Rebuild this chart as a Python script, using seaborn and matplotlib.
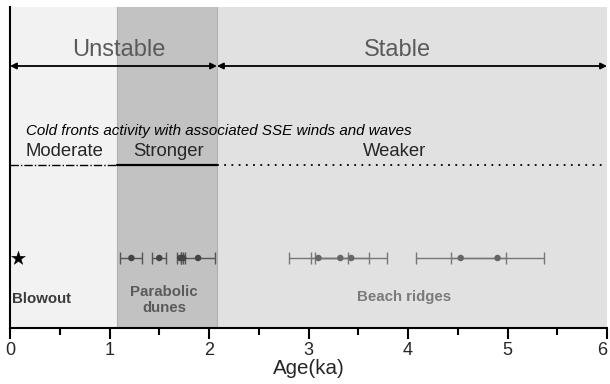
import matplotlib
matplotlib.use("Agg")
import matplotlib.pyplot as plt
import seaborn as sns
import pandas as pd
import numpy as np

# Data
dune_ages = [1.22, 1.50, 1.71, 1.74, 1.89]
dune_err = [0.11, 0.07, 0.03, 0.02, 0.17]
ridge_ages = [3.10, 3.32, 3.43, 4.53, 4.90]
ridge_err = [0.30, 0.29, 0.36, 0.45, 0.47]
blowout_age = [0.08]
phase_bounds = [0.0, 1.08, 2.08, 6.0]
stability_labels = ["Unstable", "Stable"]
front_labels = ["Moderate", "Stronger", "Weaker"]
xticks = [0, 1, 2, 3, 4, 5, 6]

sns.set_theme(style="white")
plt.rcParams['font.family'] = ['Liberation Sans', 'DejaVu Sans']

fig = plt.figure(figsize=(6.1, 3.84), dpi=100)
ax = fig.add_axes([10/610, (384-328)/384, 597/610, 321/384])
ax.set_xlim(0, 6)
ax.set_ylim(0, 321)

# backgrounds
bg = ["#f2f2f2", "#c2c2c2", "#e1e1e1"]
for i in range(3):
    ax.axvspan(phase_bounds[i], phase_bounds[i+1], color=bg[i], lw=0, zorder=0)
ax.axvline(phase_bounds[1], color="#b0b0b0", lw=0.8, zorder=0.5)
ax.axvline(phase_bounds[2], color="#b0b0b0", lw=0.8, zorder=0.5)

def py(p):
    return 328 - p

# arrows
arr = dict(arrowstyle="<|-|>", color="black", lw=1.3, mutation_scale=9, shrinkA=0, shrinkB=0)
ax.annotate("", xy=(phase_bounds[0], py(66)), xytext=(phase_bounds[2], py(66)), arrowprops=arr)
ax.annotate("", xy=(phase_bounds[2], py(66)), xytext=(phase_bounds[3], py(66)), arrowprops=arr)
ax.text(1.09, py(50), stability_labels[0], ha="center", va="center", fontsize=17, color="#5a5a5a")
ax.text(3.89, py(50), stability_labels[1], ha="center", va="center", fontsize=17, color="#5a5a5a")

# cold front lines
ax.plot([phase_bounds[0], phase_bounds[1]], [py(165)]*2, color="black", lw=1.0, ls=(0, (6, 1.5, 1, 1.5)))
ax.plot([phase_bounds[1], phase_bounds[2]], [py(165)]*2, color="black", lw=1.6, ls="-")
ax.plot([phase_bounds[2], phase_bounds[3]], [py(165)]*2, color="black", lw=1.3, ls=(0, (1, 3)))
ax.text(0.16, py(131), "Cold fronts activity with associated SSE winds and waves",
        ha="left", va="center", fontsize=10.9, style="italic", color="black")
ax.text(0.16, py(152), front_labels[0], ha="left", va="center", fontsize=13.3)
ax.text(1.59, py(152), front_labels[1], ha="center", va="center", fontsize=13.3)
ax.text(3.86, py(152), front_labels[2], ha="center", va="center", fontsize=13.3)

# error bars and points
yrow = py(258)
ax.errorbar(dune_ages, [yrow]*len(dune_ages), xerr=dune_err, fmt="none",
            ecolor="#555555", elinewidth=1.0, capsize=4, capthick=1.0, zorder=3)
ax.errorbar(ridge_ages, [yrow]*len(ridge_ages), xerr=ridge_err, fmt="none",
            ecolor="#777777", elinewidth=1.0, capsize=4, capthick=1.0, zorder=3)
pts = pd.DataFrame({"age": dune_ages + ridge_ages,
                    "y": [yrow]*(len(dune_ages)+len(ridge_ages)),
                    "grp": ["d"]*len(dune_ages) + ["r"]*len(ridge_ages)})
sns.scatterplot(data=pts, x="age", y="y", hue="grp", palette={"d": "#444444", "r": "#666666"},
                s=22, edgecolor="none", legend=False, ax=ax, zorder=4)
sns.scatterplot(x=blowout_age, y=[yrow], marker="*", s=110, color="black", edgecolor="black",
                linewidth=0.3, ax=ax, zorder=4)

ax.text(0.02, py(299), "Blowout", ha="left", va="center", fontsize=10.8, fontweight="bold", color="#3a3a3a")
ax.text(1.55, py(300), "Parabolic\ndunes", ha="center", va="center", fontsize=10.8,
        fontweight="bold", color="#5a5a5a", linespacing=1.1)
ax.text(3.96, py(297), "Beach ridges", ha="center", va="center", fontsize=10.8,
        fontweight="bold", color="#7a7a7a")

# axes styling
for s in ["top", "right"]:
    ax.spines[s].set_visible(False)
ax.spines["left"].set_color("black")
ax.spines["left"].set_linewidth(1.5)
ax.spines["bottom"].set_color("black")
ax.spines["bottom"].set_linewidth(1.5)
ax.set_yticks([])
ax.set_xticks(xticks)
ax.set_xticks(np.arange(0.5, 6, 1.0), minor=True)
ax.tick_params(axis="x", which="major", direction="out", length=8, width=1.5, color="black",
               labelsize=13, pad=2, bottom=True)
ax.tick_params(axis="x", which="minor", direction="out", length=5, width=1.5, color="black", bottom=True)
labels = ax.get_xticklabels()
labels[-1].set_horizontalalignment("right")
ax.set_xlabel("Age(ka)", fontsize=14.8, labelpad=0)
ax.set_ylabel("")

fig.savefig("out.png", dpi=100)
